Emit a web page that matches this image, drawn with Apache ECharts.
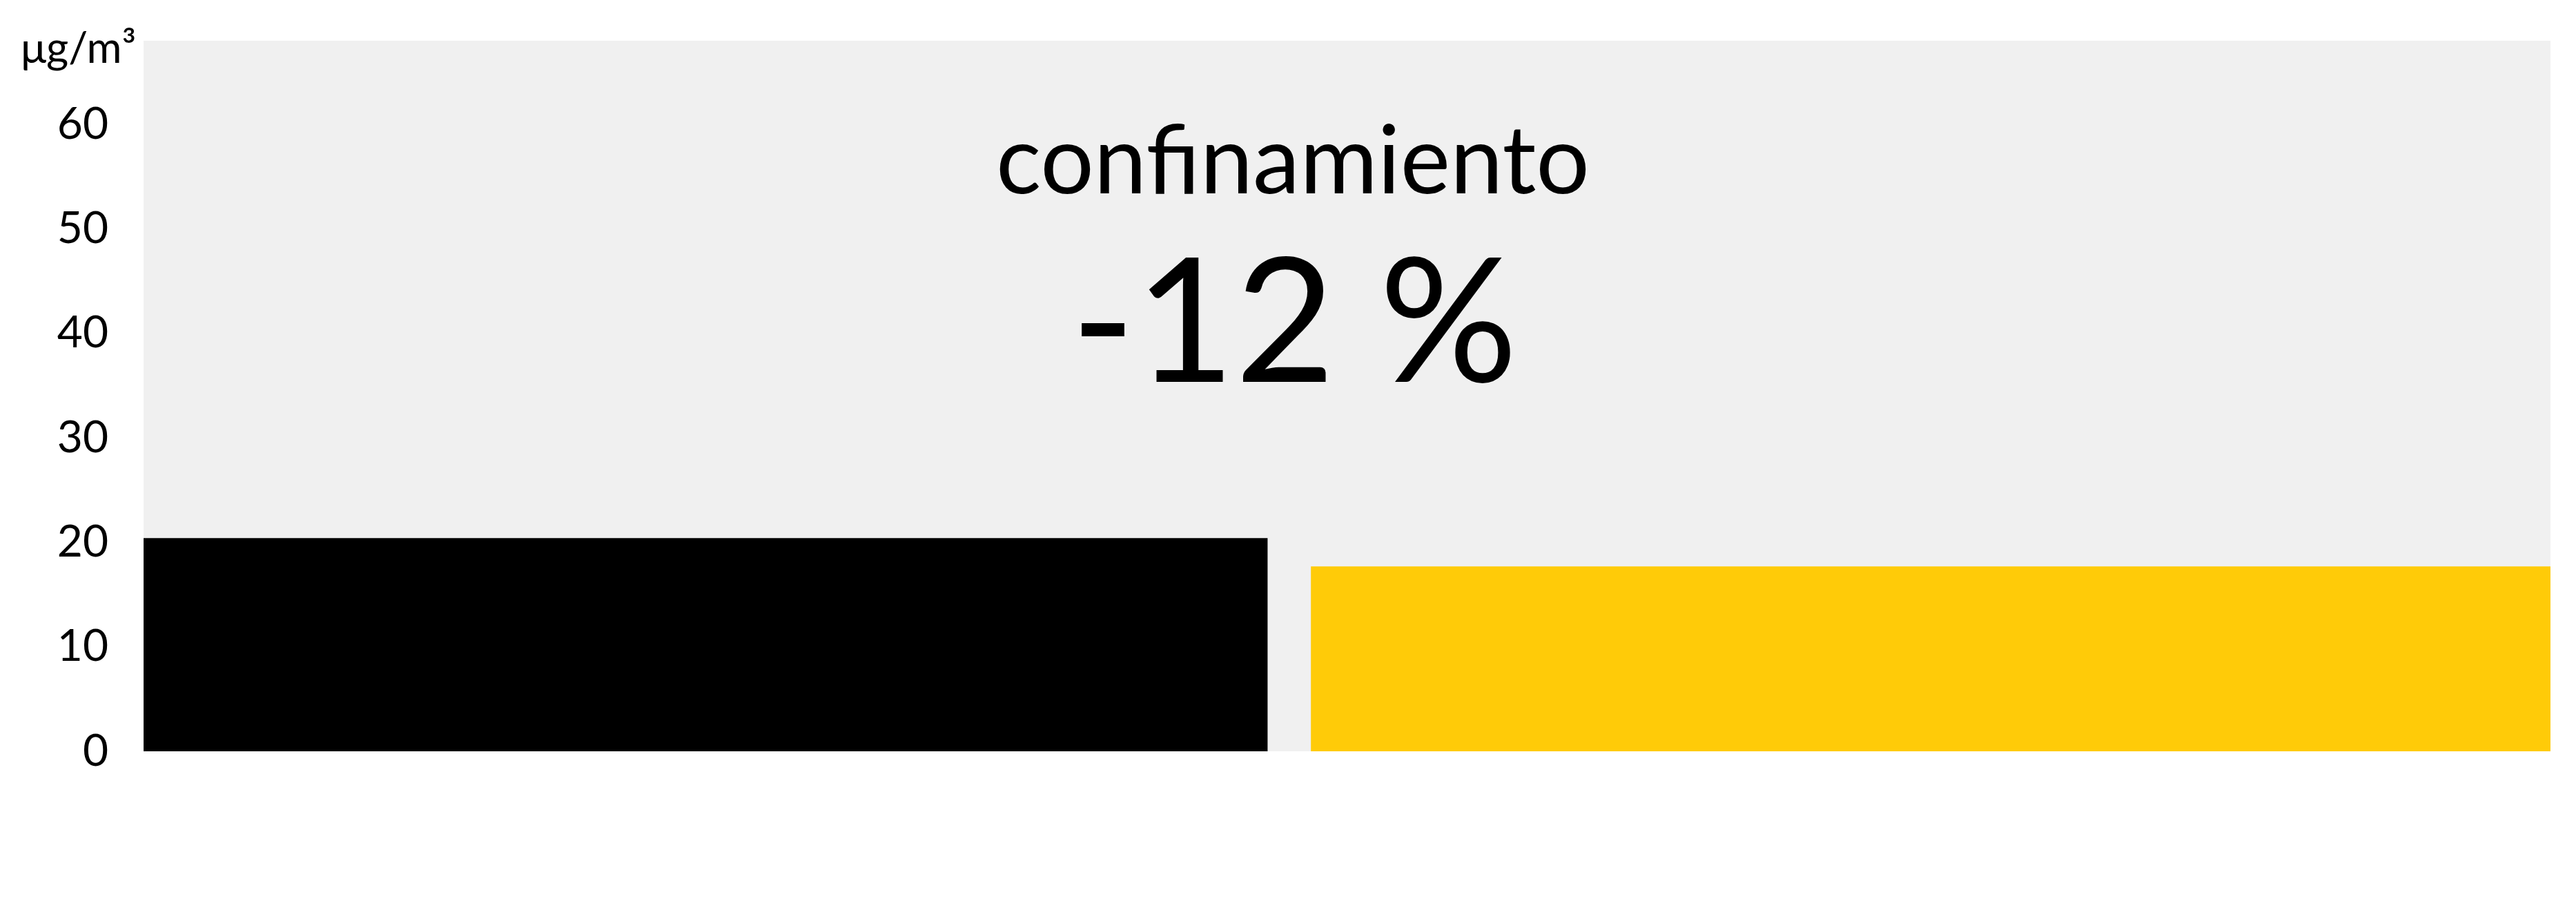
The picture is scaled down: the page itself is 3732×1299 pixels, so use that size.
<!DOCTYPE html>
<html>
<head>
<meta charset="utf-8">
<script src="https://cdn.jsdelivr.net/npm/echarts@6/dist/echarts.min.js"></script>
<style>
html,body{margin:0;padding:0;background:#fff;}
#chart{width:3732px;height:1299px;}
</style>
</head>
<body>
<div id="chart"></div>
<script>
// ---- data ----
const periods = ['antes del confinamiento', 'confinamiento'];
const periodStart = [0, 48.5];
const periodEnd = [46.7, 100];
const values = [20.4, 17.7];
const yTicks = [0, 10, 20, 30, 40, 50, 60];
const unitLabel = 'μg/m³';
const headline = 'confinamiento';
const changeLabel = '-12 %';

// ---- styles ----
const barColors = ['#000000', '#FFCB08'];
const FONT = 'Lato, "Noto Sans", sans-serif';

const chart = echarts.init(document.getElementById('chart'), null, {renderer: 'canvas'});

const seriesData = periods.map((p, i) => ({
  name: p,
  value: [periodStart[i], periodEnd[i], values[i]]
}));

chart.setOption({
  animation: false,
  backgroundColor: '#ffffff',
  grid: {
    left: 208, right: 37, top: 59, bottom: 211,
    show: true, backgroundColor: '#f0f0f0', borderWidth: 0
  },
  xAxis: {
    type: 'value', min: 0, max: 100, show: false
  },
  yAxis: {
    type: 'value', min: 0, max: 68, interval: 10,
    axisLine: {show: false}, axisTick: {show: false}, splitLine: {show: false},
    axisLabel: {
      showMaxLabel: false,
      margin: 51,
      fontFamily: FONT, fontSize: 64, color: '#000',
      formatter: v => (yTicks.indexOf(v) >= 0 ? String(v) : '')
    }
  },
  graphic: [
    {type: 'text', left: 30, top: 40, style: {text: unitLabel, font: '62px ' + FONT, fill: '#000'}},
    {type: 'text', x: 1873, y: 236, style: {text: headline, font: '137px ' + FONT, fill: '#000', align: 'center', verticalAlign: 'middle'}},
    {type: 'text', x: 1875, y: 472, style: {text: changeLabel, font: '250px ' + FONT, fill: '#000', align: 'center', verticalAlign: 'middle'}}
  ],
  series: [{
    type: 'custom',
    data: seriesData,
    encode: {x: [0, 1], y: 2},
    renderItem: function (params, api) {
      const p0 = api.coord([api.value(0), api.value(2)]);
      const p1 = api.coord([api.value(1), 0]);
      return {
        type: 'rect',
        shape: {x: p0[0], y: p0[1], width: p1[0] - p0[0], height: p1[1] - p0[1]},
        style: {fill: barColors[params.dataIndex]}
      };
    }
  }]
});
</script>
</body>
</html>
